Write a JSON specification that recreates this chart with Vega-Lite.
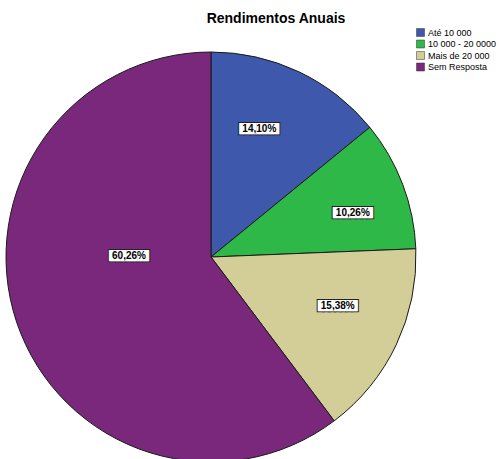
{
  "$schema": "https://vega.github.io/schema/vega-lite/v6.json",
  "width": 422,
  "height": 404,
  "autosize": {"type": "none"},
  "padding": {"left": 0, "top": 55, "right": 77, "bottom": 0},
  "background": "white",
  "title": {
    "text": "Rendimentos Anuais",
    "font": "Liberation Sans",
    "fontSize": 14,
    "fontWeight": "bold",
    "color": "#000000",
    "anchor": "middle",
    "frame": "group",
    "baseline": "alphabetic",
    "dx": 65,
    "dy": 15,
    "offset": 6
  },
  "data": {
    "values": [
      {"Categoria": "Até 10 000", "ordem": 1, "Percentagem": 14.10, "Rotulo": "14,10%"},
      {"Categoria": "10 000 - 20 0000", "ordem": 2, "Percentagem": 10.26, "Rotulo": "10,26%"},
      {"Categoria": "Mais de 20 000", "ordem": 3, "Percentagem": 15.38, "Rotulo": "15,38%"},
      {"Categoria": "Sem Resposta", "ordem": 4, "Percentagem": 60.26, "Rotulo": "60,26%"}
    ]
  },
  "encoding": {
    "theta": {"field": "Percentagem", "type": "quantitative", "stack": true},
    "order": {"field": "ordem", "type": "quantitative"}
  },
  "layer": [
    {
      "mark": {"type": "arc", "outerRadius": 205, "stroke": "#1a1a1a", "strokeWidth": 1},
      "encoding": {
        "color": {
          "field": "Categoria",
          "type": "nominal",
          "scale": {
            "domain": ["Até 10 000", "10 000 - 20 0000", "Mais de 20 000", "Sem Resposta"],
            "range": ["#3E58AC", "#2EB848", "#D3CE97", "#79287C"]
          },
          "legend": {
            "orient": "none",
            "legendX": 416,
            "legendY": -27,
            "title": null,
            "symbolType": "square",
            "symbolSize": 64,
            "symbolStrokeColor": "#333333",
            "symbolStrokeWidth": 0.5,
            "symbolOpacity": 1,
            "labelFont": "Liberation Sans",
            "labelFontSize": 9,
            "labelColor": "#000000",
            "labelOffset": 3,
            "rowPadding": 0.5
          }
        }
      }
    },

    {"mark": {"type": "text", "font": "DejaVu Sans Mono", "fontSize": 9.5, "fill": "#222222", "stroke": "#222222", "strokeWidth": 2, "align": "center", "baseline": "middle", "radius": 137, "thetaOffset": -0.0826},
     "encoding": {"text": {"condition": {"test": "datum.ordem !== 1", "value": ""}, "value": "███████"}}},
    {"mark": {"type": "text", "font": "DejaVu Sans Mono", "fontSize": 9.5, "fill": "white", "align": "center", "baseline": "middle", "radius": 137, "thetaOffset": -0.0826},
     "encoding": {"text": {"condition": {"test": "datum.ordem !== 1", "value": ""}, "value": "███████"}}},
    {"mark": {"type": "text", "font": "Liberation Sans", "fontSize": 10, "fontWeight": "bold", "color": "#000000", "align": "center", "baseline": "middle", "radius": 137, "thetaOffset": -0.0826},
     "encoding": {"text": {"condition": {"test": "datum.ordem !== 1", "value": ""}, "field": "Rotulo", "type": "nominal"}}},

    {"mark": {"type": "text", "font": "DejaVu Sans Mono", "fontSize": 9.5, "fill": "#222222", "stroke": "#222222", "strokeWidth": 2, "align": "center", "baseline": "middle", "radius": 148.5, "thetaOffset": 0.0616},
     "encoding": {"text": {"condition": {"test": "datum.ordem !== 2", "value": ""}, "value": "███████"}}},
    {"mark": {"type": "text", "font": "DejaVu Sans Mono", "fontSize": 9.5, "fill": "white", "align": "center", "baseline": "middle", "radius": 148.5, "thetaOffset": 0.0616},
     "encoding": {"text": {"condition": {"test": "datum.ordem !== 2", "value": ""}, "value": "███████"}}},
    {"mark": {"type": "text", "font": "Liberation Sans", "fontSize": 10, "fontWeight": "bold", "color": "#000000", "align": "center", "baseline": "middle", "radius": 148.5, "thetaOffset": 0.0616},
     "encoding": {"text": {"condition": {"test": "datum.ordem !== 2", "value": ""}, "field": "Rotulo", "type": "nominal"}}},

    {"mark": {"type": "text", "font": "DejaVu Sans Mono", "fontSize": 9.5, "fill": "#222222", "stroke": "#222222", "strokeWidth": 2, "align": "center", "baseline": "middle", "radius": 136, "thetaOffset": -0.072},
     "encoding": {"text": {"condition": {"test": "datum.ordem !== 3", "value": ""}, "value": "███████"}}},
    {"mark": {"type": "text", "font": "DejaVu Sans Mono", "fontSize": 9.5, "fill": "white", "align": "center", "baseline": "middle", "radius": 136, "thetaOffset": -0.072},
     "encoding": {"text": {"condition": {"test": "datum.ordem !== 3", "value": ""}, "value": "███████"}}},
    {"mark": {"type": "text", "font": "Liberation Sans", "fontSize": 10, "fontWeight": "bold", "color": "#000000", "align": "center", "baseline": "middle", "radius": 136, "thetaOffset": -0.072},
     "encoding": {"text": {"condition": {"test": "datum.ordem !== 3", "value": ""}, "field": "Rotulo", "type": "nominal"}}},

    {"mark": {"type": "text", "font": "DejaVu Sans Mono", "fontSize": 9.5, "fill": "#222222", "stroke": "#222222", "strokeWidth": 2, "align": "center", "baseline": "middle", "radius": 82, "thetaOffset": 0.335},
     "encoding": {"text": {"condition": {"test": "datum.ordem !== 4", "value": ""}, "value": "███████"}}},
    {"mark": {"type": "text", "font": "DejaVu Sans Mono", "fontSize": 9.5, "fill": "white", "align": "center", "baseline": "middle", "radius": 82, "thetaOffset": 0.335},
     "encoding": {"text": {"condition": {"test": "datum.ordem !== 4", "value": ""}, "value": "███████"}}},
    {"mark": {"type": "text", "font": "Liberation Sans", "fontSize": 10, "fontWeight": "bold", "color": "#000000", "align": "center", "baseline": "middle", "radius": 82, "thetaOffset": 0.335},
     "encoding": {"text": {"condition": {"test": "datum.ordem !== 4", "value": ""}, "field": "Rotulo", "type": "nominal"}}}
  ]
}
